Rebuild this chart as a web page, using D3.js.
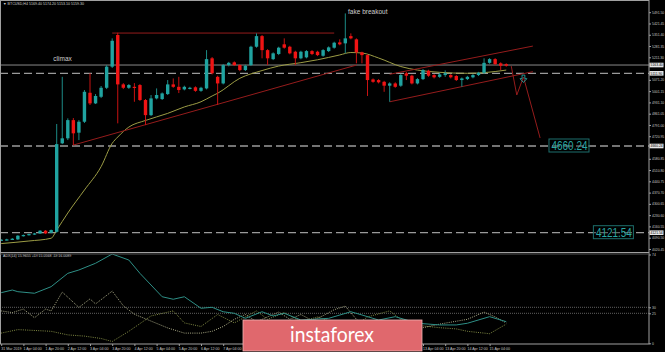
<!DOCTYPE html>
<html>
<head>
<meta charset="utf-8">
<script src="https://cdn.jsdelivr.net/npm/d3@7"></script>
<style>
  html, body { margin: 0; padding: 0; background: #000; overflow: hidden; }
  svg { display: block; }
</style>
</head>
<body>
<script>
(function () {
  "use strict";

  // ── Datos (velas H4, BTCUSD) ───────────────────────────
  const OPEN = [4074, 4076, 4080, 4080, 4101, 4107, 4111, 4117, 4134, 4121,
    4127, 4677, 4708, 4821, 4743, 4811, 4991, 4925, 4966, 5022,
    5153, 5350, 5043, 5022, 5028, 5039, 4946, 4852, 4956, 4952,
    4983, 5043, 5028, 5012, 5018, 5025, 5003, 5018, 5205, 5090,
    5049, 5163, 5180, 5163, 5132, 5163, 5277, 5343, 5256, 5200,
    5232, 5292, 5277, 5246, 5205, 5211, 5250, 5246, 5221, 5250,
    5271, 5304, 5298, 5343, 5323, 5242, 5225, 5074, 5070, 5059,
    5035, 5049, 5035, 5112, 5097, 5049, 5076, 5128, 5101, 5090,
    5101, 5101, 5095, 5070, 5076, 5087, 5101, 5115, 5177, 5200,
    5174, 5169];
  const HIGH = [4082, 4084, 4088, 4106, 4110, 4116, 4120, 4137, 4138, 4141,
    4797, 5090, 4832, 4834, 4821, 5008, 5112, 4983, 5033, 5163,
    5329, 5364, 5051, 5045, 5051, 5045, 4952, 4977, 5018, 4993,
    5070, 5080, 5090, 5035, 5028, 5031, 5028, 5256, 5213, 5097,
    5170, 5183, 5186, 5168, 5165, 5283, 5360, 5350, 5262, 5242,
    5277, 5329, 5283, 5252, 5252, 5256, 5256, 5252, 5262, 5279,
    5308, 5323, 5484, 5360, 5329, 5246, 5230, 5080, 5076, 5065,
    5056, 5056, 5107, 5120, 5103, 5082, 5138, 5134, 5107, 5115,
    5130, 5107, 5101, 5086, 5096, 5107, 5121, 5205, 5206, 5206,
    5180, 5174];
  const LOW = [4070, 4073, 4077, 4077, 4098, 4104, 4108, 4114, 4113, 4118,
    4121, 4672, 4697, 4666, 4697, 4803, 4915, 4921, 4958, 5014,
    5145, 4801, 5014, 5015, 4935, 4940, 4790, 4846, 4950, 4946,
    4977, 5022, 4989, 5006, 5012, 4997, 4997, 5012, 5105, 4915,
    5043, 5155, 5157, 5125, 5126, 5157, 5271, 5205, 5163, 5194,
    5225, 5265, 5230, 5163, 5199, 5205, 5225, 5219, 5215, 5244,
    5265, 5286, 5236, 5323, 5174, 5174, 4971, 5053, 5049, 4997,
    4935, 5022, 5028, 5070, 5043, 5043, 5070, 5090, 5080, 5084,
    5090, 5080, 5064, 5028, 5070, 5081, 5095, 5109, 5171, 5163,
    5132, 5153];
  const CLOSE = [4078, 4080, 4084, 4103, 4107, 4113, 4117, 4134, 4117, 4138,
    4672, 4708, 4821, 4739, 4811, 4997, 4925, 4971, 5022, 5153,
    5314, 5043, 5022, 5039, 5025, 4946, 4852, 4956, 4977, 4987,
    5043, 5028, 5008, 5028, 5022, 5003, 5022, 5200, 5112, 5049,
    5163, 5177, 5163, 5132, 5159, 5277, 5343, 5256, 5205, 5236,
    5271, 5271, 5236, 5205, 5246, 5250, 5232, 5225, 5256, 5273,
    5302, 5292, 5329, 5329, 5242, 5225, 5070, 5059, 5056, 5035,
    5049, 5028, 5101, 5097, 5049, 5076, 5132, 5097, 5087, 5105,
    5112, 5087, 5070, 5080, 5090, 5101, 5115, 5177, 5200, 5169,
    5159, 5159];

  // Media móvil
  const MA_BARS = [0, 5, 9, 10, 12, 15, 18, 20, 21, 23, 26, 30, 33, 36, 38, 39, 43, 47, 50, 54, 57, 61, 63, 65, 68, 72, 75, 79, 84, 87, 91];
  const MA_VALS = [4054, 4070, 4087, 4138, 4244, 4387, 4532, 4677, 4716, 4778, 4819, 4863, 4903, 4935, 4971, 4988, 5081, 5129, 5157, 5178, 5196, 5226, 5241, 5238, 5207, 5154, 5132, 5118, 5112, 5116, 5132];

  // ADX / +DI / -DI
  const ADX_BARS = [0, 2, 3, 6, 9, 12, 14, 17, 20, 23, 25, 29, 31, 33, 36, 38, 40, 42, 44, 47, 49, 51, 54, 59, 63, 65, 68, 71, 75, 79, 82, 84, 88, 91];
  const ADX_VALS = [42.2, 44.4, 43, 41.7, 47.2, 58.3, 61.1, 66.7, 74.4, 69.4, 58.3, 38.8, 36.7, 38.8, 29.2, 30, 26.3, 25, 20.8, 26.3, 22.8, 25, 19.4, 20.8, 26.3, 23.6, 19.4, 22.2, 16.7, 15.3, 15.3, 16.7, 22.2, 18];
  const DIP_BARS = [0, 2, 4, 6, 8, 9, 11, 14, 16, 17, 20, 22, 24, 27, 30, 33, 36, 38, 40, 42, 44, 46, 48, 50, 52, 54, 56, 58, 60, 62, 64, 66, 70, 75, 79, 84, 87, 89, 91];
  const DIP_VALS = [27, 25.6, 28.5, 21.3, 28.5, 27, 42.7, 29.9, 37, 32.8, 43.5, 31.3, 24.2, 18.5, 12.8, 8.5, 8.5, 10, 14, 20, 24, 18, 22, 26, 20, 24, 19, 23, 28, 31, 20, 12, 8, 12, 16, 20, 26, 22, 17];
  const DIM_BARS = [0, 3, 9, 12, 15, 18, 20, 23, 27, 31, 33, 36, 39, 42, 46, 48, 51, 54, 57, 60, 63, 66, 70, 72, 75, 79, 82, 84, 88, 91];
  const DIM_VALS = [8.5, 11.4, 10, 7, 6, 4, 1.5, 10, 22.8, 27, 17, 14, 24, 17, 27, 20, 25.6, 18, 22, 17, 12, 22, 27, 20, 15, 13, 12, 10, 8, 16];
  const ADX_LEVELS = [30, 25];
  const ADX_TICKS = [74, 30, 25, 0];

  // Niveles horizontales
  const BID_PRICE = 5163.40;
  const DASH_LEVELS = [5111.90, 4660.24, 4121.54];

  // Líneas de tendencia: [barra1, precio1, barra2, precio2]
  const TRENDLINES = [
    [20, 5362, 60, 5362],
    [13, 4666, 64, 5163],
    [70, 4935, 95.8, 5122],
    [70, 5106, 95.8, 5281]
  ];
  // Proyección
  const PROJ_BARS = [91.9, 92.9, 94.1, 97.1];
  const PROJ_PRICES = [5157, 4977, 5089, 4710];
  const ARROW_BAR = 94.1;
  const ARROW_PRICE = 5101;

  // Objetivos
  const TARGET_TEXT = ["4660.24", "4121.54"];
  const TARGET_BAR = [98.7, 106.7];
  const TARGET_PRICE = [4660.24, 4121.54];

  // Anotaciones
  const NOTE_TEXT = ["climax", "fake breakout"];
  const NOTE_BAR = [9.4, 62.5];
  const NOTE_PRICE = [5191, 5483];

  // Ejes
  const PRICE_TICKS = [4020.45, 4090.50, 4160.55, 4230.60, 4300.65, 4370.70, 4440.75, 4510.80, 4580.85, 4650.90, 4720.95,
    4791.00, 4861.05, 4931.10, 5001.15, 5071.20, 5141.25, 5211.30, 5281.35, 5351.40, 5421.45, 5491.50];
  const DATE_BARS = [0, 4, 8, 12, 16, 20, 24, 28, 32, 36, 40, 44, 48, 52, 56, 60, 64, 68, 72, 76, 80, 84, 88];
  const DATE_LABELS = ["31 Mar 2019", "1 Apr 04:00", "1 Apr 20:00", "2 Apr 12:00", "3 Apr 04:00", "3 Apr 20:00",
    "4 Apr 12:00", "5 Apr 04:00", "5 Apr 20:00", "6 Apr 12:00", "7 Apr 04:00", "7 Apr 20:00", "8 Apr 12:00",
    "9 Apr 04:00", "9 Apr 20:00", "10 Apr 12:00", "11 Apr 04:00", "11 Apr 20:00", "12 Apr 12:00",
    "13 Apr 04:00", "13 Apr 20:00", "14 Apr 12:00", "15 Apr 04:00"];

  // ── Configuración ──────────────────────────────────────
  const W = 665, H = 352;
  const AXIS_X = 649;
  const MAIN_BOTTOM = 252;
  const SUB_TOP = 253.5, SUB_BOTTOM = 344;
  const UP = "#20a3a0", DOWN = "#f01414";
  const UP_WICK = "#1c8b86", DOWN_WICK = "#c81212";
  const TREND = "#951c1c";
  const GRID = "#9a9a9a";
  const FONT = "Liberation Sans, Arial, sans-serif";

  const svg = d3.select("body").append("svg").attr("width", W).attr("height", H);
  svg.append("rect").attr("width", W).attr("height", H).attr("fill", "#000");

  // Escalas
  const x = d3.scaleLinear().domain([0, 1]).range([1.2, 6.75]);
  const y = d3.scaleLinear().domain([4121.54, 4660.24]).range([232.7, 146]);
  const yAdx = d3.scaleLinear().domain([0, 74]).range([343.3, 254.5]);

  const defs = svg.append("defs");
  defs.append("clipPath").attr("id", "clip-main").append("rect").attr("x", 1).attr("y", 1).attr("width", AXIS_X - 1).attr("height", MAIN_BOTTOM - 1);
  defs.append("clipPath").attr("id", "clip-sub").append("rect").attr("x", 1).attr("y", SUB_TOP).attr("width", AXIS_X - 1).attr("height", SUB_BOTTOM - SUB_TOP);

  const gMain = svg.append("g").attr("clip-path", "url(#clip-main)");
  const gSub = svg.append("g").attr("clip-path", "url(#clip-sub)");

  // Niveles
  gMain.append("line").attr("x1", 0).attr("x2", AXIS_X).attr("y1", y(BID_PRICE)).attr("y2", y(BID_PRICE))
    .attr("stroke", "#8a8a8a").attr("stroke-width", 1);
  gMain.selectAll("line.dash").data(DASH_LEVELS).join("line").attr("class", "dash")
    .attr("x1", 0).attr("x2", AXIS_X).attr("y1", (d) => y(d)).attr("y2", (d) => y(d))
    .attr("stroke", GRID).attr("stroke-width", 1.3).attr("stroke-dasharray", "8,4");

  // Media móvil
  const maLine = d3.line().x((d, i) => x(MA_BARS[i])).y((d) => y(d)).curve(d3.curveMonotoneX);
  gMain.append("path").attr("d", maLine(MA_VALS)).attr("fill", "none").attr("stroke", "#9c9c45").attr("stroke-width", 1);

  // Líneas de tendencia
  gMain.selectAll("line.trend").data(TRENDLINES).join("line").attr("class", "trend")
    .attr("x1", (d) => x(d[0])).attr("y1", (d) => y(d[1])).attr("x2", (d) => x(d[2])).attr("y2", (d) => y(d[3]))
    .attr("stroke", TREND).attr("stroke-width", 1);

  // Velas
  const bars = d3.range(OPEN.length);
  gMain.selectAll("line.wick").data(bars).join("line").attr("class", "wick")
    .attr("x1", (i) => x(i)).attr("x2", (i) => x(i))
    .attr("y1", (i) => y(HIGH[i])).attr("y2", (i) => y(LOW[i]))
    .attr("stroke", (i) => (CLOSE[i] >= OPEN[i] ? UP_WICK : DOWN_WICK)).attr("stroke-width", 1);
  gMain.selectAll("rect.body").data(bars).join("rect").attr("class", "body")
    .attr("x", (i) => x(i) - 1.7).attr("width", 3.4)
    .attr("y", (i) => y(Math.max(OPEN[i], CLOSE[i])))
    .attr("height", (i) => Math.max(1.2, Math.abs(y(OPEN[i]) - y(CLOSE[i]))))
    .attr("fill", (i) => (CLOSE[i] >= OPEN[i] ? UP : DOWN));

  // Proyección + flecha
  const projLine = d3.line().x((d, i) => x(PROJ_BARS[i])).y((d) => y(d));
  gMain.append("path").attr("d", projLine(PROJ_PRICES)).attr("fill", "none").attr("stroke", TREND).attr("stroke-width", 1);
  const ax = x(ARROW_BAR), ay = y(ARROW_PRICE);
  gMain.append("path")
    .attr("d", `M${ax - 1.4},${ay} h2.8 v3.6 h2 l-3.4,3.8 l-3.4,-3.8 h2 z`)
    .attr("fill", "none").attr("stroke", "#2aa3a0").attr("stroke-width", 0.9);

  // Objetivos
  const gT = gMain.selectAll("g.target").data(TARGET_TEXT).join("g").attr("class", "target");
  gT.append("rect").attr("x", (d, i) => x(TARGET_BAR[i])).attr("y", (d, i) => y(TARGET_PRICE[i]) - 7)
    .attr("width", 40).attr("height", 13).attr("fill", "#000").attr("fill-opacity", 0.35)
    .attr("stroke", "#1d6e6c").attr("stroke-width", 1);
  gT.append("text").attr("x", (d, i) => x(TARGET_BAR[i]) + 2.5).attr("y", (d, i) => y(TARGET_PRICE[i]) + 4.3)
    .attr("font-family", FONT).attr("font-size", 12.5).attr("fill", "#2aa6a3")
    .attr("textLength", 36).attr("lengthAdjust", "spacingAndGlyphs").text((d) => d);

  // Anotaciones
  gMain.selectAll("text.note").data(NOTE_TEXT).join("text").attr("class", "note")
    .attr("x", (d, i) => x(NOTE_BAR[i])).attr("y", (d, i) => y(NOTE_PRICE[i]))
    .attr("font-family", FONT).attr("font-size", 6.5).attr("fill", "#cfcfcf").text((d) => d);

  // Cabecera
  svg.append("text").attr("x", 3).attr("y", 5.3).attr("font-family", FONT).attr("font-size", 3.6).attr("fill", "#cfcfcf")
    .text("\u25BC BTCUSD,H4  5169.40 5174.20 5153.10 5159.30");

  // ── Panel ADX ──────────────────────────────────────────
  gSub.selectAll("line.lvl").data(ADX_LEVELS).join("line").attr("class", "lvl")
    .attr("x1", 0).attr("x2", AXIS_X).attr("y1", (d) => yAdx(d)).attr("y2", (d) => yAdx(d))
    .attr("stroke", "#8a8a8a").attr("stroke-width", 0.7).attr("stroke-dasharray", "1,1");
  const subLine = (barsArr) => d3.line().x((d, i) => x(barsArr[i])).y((d) => yAdx(d));
  gSub.append("path").attr("d", subLine(DIM_BARS)(DIM_VALS)).attr("fill", "none")
    .attr("stroke", "#8e9a4c").attr("stroke-width", 0.9).attr("stroke-dasharray", "1,1.2");
  gSub.append("path").attr("d", subLine(DIP_BARS)(DIP_VALS)).attr("fill", "none")
    .attr("stroke", "#bdbd95").attr("stroke-width", 0.9).attr("stroke-dasharray", "1,1.2");
  gSub.append("path").attr("d", subLine(ADX_BARS)(ADX_VALS)).attr("fill", "none")
    .attr("stroke", "#2e8f86").attr("stroke-width", 1);
  svg.append("text").attr("x", 3).attr("y", 256.6).attr("font-family", FONT).attr("font-size", 3.6).attr("fill", "#cfcfcf")
    .text("ADX(14) 15.9655 +DI:15.0568 -DI:16.0089");

  // ── Marcos ─────────────────────────────────────────────
  const frame = svg.append("g").attr("fill", "none").attr("stroke", "#a0a0a0").attr("stroke-width", 1);
  frame.append("rect").attr("x", 0.5).attr("y", 0.5).attr("width", AXIS_X - 0.5).attr("height", SUB_BOTTOM - 0.5);
  frame.append("line").attr("x1", 0).attr("x2", AXIS_X).attr("y1", MAIN_BOTTOM + 0.5).attr("y2", MAIN_BOTTOM + 0.5);
  frame.append("line").attr("x1", 0).attr("x2", AXIS_X).attr("y1", MAIN_BOTTOM + 2).attr("y2", MAIN_BOTTOM + 2).attr("stroke", "#555");

  // Eje de precios (las marcas tapadas por las cajas de nivel no se muestran)
  const boxLevels = [BID_PRICE].concat(DASH_LEVELS);
  const visibleTicks = PRICE_TICKS.filter((t) => boxLevels.every((b) => Math.abs(y(t) - y(b)) > 4.8));
  const gY = svg.append("g").attr("transform", `translate(${AXIS_X},0)`)
    .call(d3.axisRight(y).tickValues(visibleTicks).tickFormat(d3.format(".2f")).tickSize(2).tickPadding(1));
  gY.select(".domain").remove();
  gY.selectAll("line").attr("stroke", "#a0a0a0");
  gY.selectAll("text").attr("font-family", FONT).attr("font-size", 3.4).attr("fill", "#c4c4c4");

  // Etiquetas de nivel en el eje
  const gBox = svg.selectAll("g.lvlbox").data(boxLevels).join("g").attr("class", "lvlbox");
  gBox.append("rect").attr("x", AXIS_X + 0.5).attr("y", (d) => y(d) - 2.3).attr("width", 14).attr("height", 4.6).attr("fill", "#e6e6e6");
  gBox.append("text").attr("x", AXIS_X + 1.5).attr("y", (d) => y(d) + 1.2).attr("font-family", FONT).attr("font-size", 3.4)
    .attr("fill", "#000").text((d) => d3.format(".2f")(d));

  // Eje ADX
  const gA = svg.append("g").attr("transform", `translate(${AXIS_X},0)`)
    .call(d3.axisRight(yAdx).tickValues(ADX_TICKS).tickFormat(d3.format("d")).tickSize(2).tickPadding(1));
  gA.select(".domain").remove();
  gA.selectAll("line").attr("stroke", "#a0a0a0");
  gA.selectAll("text").attr("font-family", FONT).attr("font-size", 3.4).attr("fill", "#c4c4c4");

  // Eje de fechas
  const gX = svg.append("g").attr("transform", `translate(0,${SUB_BOTTOM})`)
    .call(d3.axisBottom(x).tickValues(DATE_BARS).tickFormat((d, i) => DATE_LABELS[i]).tickSize(2).tickPadding(1));
  gX.select(".domain").remove();
  gX.selectAll("line").attr("stroke", "#a0a0a0");
  gX.selectAll("text").attr("font-family", FONT).attr("font-size", 3.6).attr("fill", "#c4c4c4")
    .attr("text-anchor", "start").attr("dx", -0.5);

  // ── Marca de agua ──────────────────────────────────────
  svg.append("rect").attr("x", 243).attr("y", 320).attr("width", 179).attr("height", 31)
    .attr("fill", "#e0686d").attr("stroke", "#f0b4b4").attr("stroke-width", 0.8);
  svg.append("text").attr("x", 332).attr("y", 341.5).attr("text-anchor", "middle")
    .attr("font-family", "Lato, sans-serif").attr("font-size", 22).attr("fill", "#fff")
    .attr("textLength", 84).attr("lengthAdjust", "spacingAndGlyphs").text("instaforex");
})();
</script>
</body>
</html>
